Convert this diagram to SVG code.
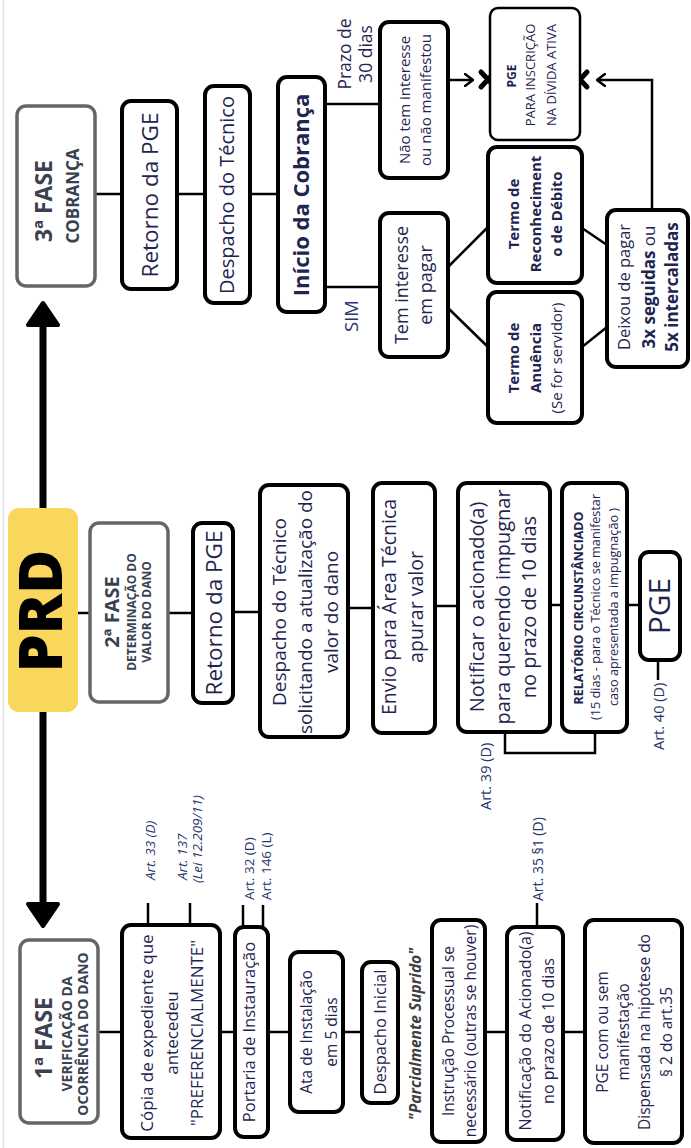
<svg xmlns="http://www.w3.org/2000/svg" width="691" height="1148" viewBox="0 0 691 1148">
<defs>
<style>
.t{font-family:"Open Sans","Liberation Sans",sans-serif;fill:#1f2550;text-anchor:middle}
.s{text-anchor:start}
.b{font-weight:700}
.i{font-style:italic}
.ph{fill:#3a4252;font-weight:700}
.lbl{fill:#28336a}
.box{fill:#fff;stroke:#000;stroke-width:4}
.gbox{fill:#fff;stroke:#666;stroke-width:3.5}
.con{stroke:#000;stroke-width:2.5;fill:none}
.big{stroke:#000;stroke-width:7;fill:none}
.x{stroke:#000;stroke-width:5;stroke-linecap:round;fill:none}
</style>
<marker id="chev" viewBox="0 0 10 14" refX="9" refY="7" markerWidth="10" markerHeight="14" markerUnits="userSpaceOnUse" orient="auto">
<path d="M1,1 L9,7 L1,13" fill="none" stroke="#000" stroke-width="2.5" stroke-linecap="round" stroke-linejoin="round"/>
</marker>
<marker id="head" viewBox="0 0 28 36" refX="3" refY="18" markerWidth="28" markerHeight="36" markerUnits="userSpaceOnUse" orient="auto">
<path d="M3,3 L25,18 L3,33 Z" fill="#000" stroke="#000" stroke-width="4" stroke-linejoin="round"/>
</marker>
</defs>
<rect x="0" y="0" width="691" height="1148" fill="#fff"/>
<line x1="3.5" y1="0" x2="3.5" y2="1148" stroke="#e2e2e2" stroke-width="1.5"/>

<!-- connectors -->
<g id="connectors">
<line class="big" x1="43" y1="510" x2="43" y2="325" marker-end="url(#head)"/>
<line class="big" x1="43" y1="710" x2="43" y2="904" marker-end="url(#head)"/>
<!-- phase 3 -->
<line class="con" x1="95" y1="194" x2="122" y2="194"/>
<line class="con" x1="177" y1="194" x2="205" y2="194"/>
<line class="con" x1="250" y1="194" x2="278" y2="194"/>
<line class="con" x1="325" y1="104" x2="380" y2="104"/>
<line class="con" x1="325" y1="287" x2="380" y2="287"/>
<line class="con" x1="448" y1="80" x2="473" y2="80" marker-end="url(#chev)"/>
<polyline class="con" points="652,210 652,80 597,80" marker-end="url(#chev)"/>
<line class="con" x1="448" y1="267" x2="488" y2="227"/>
<line class="con" x1="448" y1="308" x2="488" y2="347"/>
<line class="con" x1="582" y1="228" x2="607" y2="245"/>
<line class="con" x1="582" y1="347" x2="607" y2="327"/>
<path class="x" d="M481,72 L495,87 M495,72 L481,87"/>
<path class="x" d="M573,72 L587,87 M587,72 L573,87"/>
<!-- phase 2 -->
<line class="con" x1="78" y1="613" x2="90" y2="613"/>
<line class="con" x1="168" y1="613" x2="193" y2="613"/>
<line class="con" x1="233" y1="612" x2="260" y2="612"/>
<line class="con" x1="348" y1="608" x2="373" y2="608"/>
<line class="con" x1="435" y1="606" x2="458" y2="606"/>
<line class="con" x1="550" y1="605" x2="562" y2="605"/>
<line class="con" x1="627" y1="605" x2="640" y2="605"/>
<path class="con" d="M505,732 V753 H595 V732"/>
<line class="con" x1="658" y1="660" x2="658" y2="680"/>
<!-- phase 1 -->
<line class="con" x1="98" y1="1032" x2="122" y2="1032"/>
<line class="con" x1="220" y1="1032" x2="235" y2="1032"/>
<line class="con" x1="268" y1="1032" x2="290" y2="1032"/>
<line class="con" x1="343" y1="1032" x2="362" y2="1032"/>
<line class="con" x1="485" y1="1032" x2="507" y2="1032"/>
<line class="con" x1="563" y1="1032" x2="585" y2="1032"/>
<line class="con" x1="148" y1="903" x2="148" y2="925"/>
<line class="con" x1="190" y1="903" x2="190" y2="925"/>
<line class="con" x1="243" y1="905" x2="243" y2="927"/>
<line class="con" x1="263" y1="905" x2="263" y2="927"/>
<line class="con" x1="537" y1="903" x2="537" y2="927"/>
</g>

<!-- PRD -->
<g id="prd">
<rect x="8" y="508" width="70" height="204" rx="11" fill="#f9d75c"/>
<text class="t b" style="fill:#000;font-weight:800" font-size="60" transform="translate(0,611) rotate(-90)"><tspan x="0" y="62">PRD</tspan></text>
</g>

<!-- Phase 3 -->
<g id="fase3">
<rect class="gbox" x="17" y="106" width="78" height="180" rx="9"/>
<text class="t ph" font-size="23" transform="translate(0,201) rotate(-90)"><tspan x="0" y="52">3ª FASE</tspan></text>
<text class="t ph" font-size="17" transform="translate(0,196) rotate(-90)"><tspan x="0" y="79">COBRANÇA</tspan></text>
</g>
<g id="retorno3">
<rect class="box" x="122" y="101" width="55" height="188" rx="9"/>
<text class="t" font-size="22.5" transform="translate(0,195) rotate(-90)"><tspan x="0" y="158">Retorno da PGE</tspan></text>
</g>
<g id="despacho3">
<rect class="box" x="205" y="86" width="45" height="217" rx="9"/>
<text class="t" font-size="20" transform="translate(0,195) rotate(-90)"><tspan x="0" y="234">Despacho do Técnico</tspan></text>
</g>
<g id="inicio">
<rect class="box" x="278" y="77" width="47" height="235" rx="9"/>
<text class="t b" font-size="22" transform="translate(0,195) rotate(-90)"><tspan x="0" y="309">Início da Cobrança</tspan></text>
</g>
<g id="prazo">
<text class="t" font-size="17.5" transform="translate(0,54) rotate(-90)"><tspan x="0" y="351">Prazo de</tspan><tspan x="0" y="372">30 dias</tspan></text>
</g>
<g id="naotem">
<rect class="box" x="380" y="22" width="68" height="156" rx="9"/>
<text class="t" font-size="15" transform="translate(0,100) rotate(-90)"><tspan x="0" y="410">Não tem interesse</tspan><tspan x="0" y="431">ou não manifestou</tspan></text>
</g>
<g id="pgeativa">
<rect x="490" y="8" width="90" height="132" rx="8" fill="#fff" stroke="#000" stroke-width="2.5"/>
<text class="t b" font-size="12" transform="translate(0,76) rotate(-90)"><tspan x="0" y="516">PGE</tspan></text>
<text class="t" font-size="13" transform="translate(0,75) rotate(-90)"><tspan x="0" y="535">PARA INSCRIÇÃO</tspan><tspan x="0" y="556">NA DÍVIDA ATIVA</tspan></text>
</g>
<g id="sim">
<text class="t lbl" font-size="18.5" transform="translate(0,316) rotate(-90)"><tspan x="0" y="358">SIM</tspan></text>
</g>
<g id="teminteresse">
<rect class="box" x="380" y="213" width="68" height="144" rx="9"/>
<text class="t" font-size="18" transform="translate(0,285) rotate(-90)"><tspan x="0" y="408">Tem interesse</tspan><tspan x="0" y="432">em pagar</tspan></text>
</g>
<g id="termoreconh">
<rect class="box" x="488" y="147" width="94" height="136" rx="9"/>
<text class="t b" font-size="15" transform="translate(0,214) rotate(-90)"><tspan x="0" y="519">Termo de</tspan><tspan x="0" y="541">Reconheciment</tspan><tspan x="0" y="562">o de  Débito</tspan></text>
</g>
<g id="termoanuencia">
<rect class="box" x="488" y="292" width="94" height="131" rx="9"/>
<text class="t" font-size="15" transform="translate(0,358) rotate(-90)"><tspan x="0" y="519" font-weight="700">Termo de</tspan><tspan x="0" y="541" font-weight="700">Anuência</tspan><tspan x="0" y="562">(Se for servidor)</tspan></text>
</g>
<g id="deixou">
<rect class="box" x="607" y="210" width="81" height="157" rx="9"/>
<text class="t" font-size="16.5" transform="translate(0,287) rotate(-90)"><tspan x="0" y="630">Deixou de pagar</tspan><tspan x="0" y="655" font-size="17"><tspan font-weight="700">3x seguidas</tspan> ou</tspan><tspan x="0" y="678" font-size="17" font-weight="700">5x intercaladas</tspan></text>
</g>

<!-- Phase 2 -->
<g id="fase2">
<rect class="gbox" x="90" y="523" width="78" height="179" rx="9"/>
<text class="t ph" font-size="20" transform="translate(0,612) rotate(-90)"><tspan x="0" y="119">2ª FASE</tspan></text>
<text class="t ph" font-size="12" transform="translate(0,612) rotate(-90)"><tspan x="0" y="136">DETERMINAÇÃO DO</tspan><tspan x="0" y="151">VALOR DO DANO</tspan></text>
</g>
<g id="retorno2">
<rect class="box" x="193" y="523" width="40" height="180" rx="9"/>
<text class="t" font-size="22.5" transform="translate(0,613) rotate(-90)"><tspan x="0" y="222">Retorno da PGE</tspan></text>
</g>
<g id="despacho2">
<rect class="box" x="260" y="485" width="88" height="252" rx="9"/>
<text class="t" font-size="19" transform="translate(0,612) rotate(-90)"><tspan x="0" y="286">Despacho do Técnico</tspan><tspan x="0" y="312">solicitando a atualização do</tspan><tspan x="0" y="338">valor do dano</tspan></text>
</g>
<g id="envio">
<rect class="box" x="373" y="483" width="62" height="250" rx="9"/>
<text class="t" font-size="19.5" transform="translate(0,607) rotate(-90)"><tspan x="0" y="396">Envio para Área Técnica</tspan><tspan x="0" y="423">apurar valor</tspan></text>
</g>
<g id="notificar">
<rect class="box" x="458" y="483" width="92" height="249" rx="9"/>
<text class="t" font-size="20" transform="translate(0,607) rotate(-90)"><tspan x="0" y="484">Notificar o acionado(a)</tspan><tspan x="0" y="510">para querendo impugnar</tspan><tspan x="0" y="536">no prazo de 10 dias</tspan></text>
</g>
<g id="relatorio">
<rect class="box" x="562" y="483" width="65" height="249" rx="9"/>
<text class="t b" font-size="12.4" transform="translate(0,608) rotate(-90)"><tspan x="0" y="583">RELATÓRIO CIRCUNSTÂNCIADO</tspan></text>
<text class="t" font-size="12.7" transform="translate(0,607) rotate(-90)"><tspan x="0" y="600">(15 dias - para o Técnico se manifestar</tspan><tspan x="0" y="618">caso apresentada a impugnação )</tspan></text>
</g>
<g id="pge2">
<rect class="box" x="640" y="552" width="40" height="108" rx="9"/>
<text class="t" font-size="30" transform="translate(0,606) rotate(-90)"><tspan x="0" y="670">PGE</tspan></text>
</g>
<g id="art39">
<text class="t s lbl" font-size="14.5" transform="translate(0,810) rotate(-90)"><tspan x="0" y="491">Art. 39 (D)</tspan></text>
</g>
<g id="art40">
<text class="t s lbl" font-size="14.5" transform="translate(0,750) rotate(-90)"><tspan x="0" y="664">Art. 40 (D)</tspan></text>
</g>

<!-- Phase 1 -->
<g id="fase1">
<rect class="gbox" x="20" y="940" width="78" height="183" rx="9"/>
<text class="t ph" font-size="23" transform="translate(0,1038) rotate(-90)"><tspan x="0" y="52">1ª FASE</tspan></text>
<text class="t ph" font-size="14" transform="translate(0,1034) rotate(-90)"><tspan x="0" y="72">VERIFICAÇÃO DA</tspan><tspan x="0" y="88">OCORRÊNCIA DO DANO</tspan></text>
</g>
<g id="copia">
<rect class="box" x="122" y="925" width="98" height="213" rx="9"/>
<text class="t" font-size="17" transform="translate(0,1033) rotate(-90)"><tspan x="0" y="153">Cópia de expediente que</tspan><tspan x="0" y="178">antecedeu</tspan><tspan x="0" y="203">"PREFERENCIALMENTE"</tspan></text>
</g>
<g id="arts1">
<text class="t s lbl i" font-size="13.5" transform="translate(0,880) rotate(-90)"><tspan x="0" y="155">Art. 33 (D)</tspan></text>
<text class="t s lbl i" font-size="13.5" transform="translate(0,880) rotate(-90)"><tspan x="0" y="187">Art. 137</tspan></text>
<text class="t s lbl i" font-size="13.5" transform="translate(0,883) rotate(-90)"><tspan x="0" y="202">(Lei 12.209/11)</tspan></text>
<text class="t s lbl" font-size="13.5" transform="translate(0,900) rotate(-90)"><tspan x="0" y="254">Art. 32 (D)</tspan></text>
<text class="t s lbl" font-size="13.5" transform="translate(0,900) rotate(-90)"><tspan x="0" y="271">Art. 146 (L)</tspan></text>
<text class="t s lbl" font-size="14" transform="translate(0,901) rotate(-90)"><tspan x="0" y="543">Art. 35 §1 (D)</tspan></text>
</g>
<g id="portaria">
<rect class="box" x="235" y="927" width="33" height="210" rx="9"/>
<text class="t" font-size="16.5" transform="translate(0,1032) rotate(-90)"><tspan x="0" y="255">Portaria de Instauração</tspan></text>
</g>
<g id="ata">
<rect class="box" x="290" y="952" width="53" height="160" rx="9"/>
<text class="t" font-size="15.5" transform="translate(0,1032) rotate(-90)"><tspan x="0" y="312">Ata de Instalação</tspan><tspan x="0" y="337">em 5 dias</tspan></text>
</g>
<g id="despachoinicial">
<rect class="box" x="362" y="962" width="36" height="141" rx="9"/>
<text class="t" font-size="16.5" transform="translate(0,1032) rotate(-90)"><tspan x="0" y="386">Despacho Inicial</tspan></text>
</g>
<g id="parcialmente">
<text class="t b i" style="fill:#404040" font-size="15.5" transform="translate(0,1034) rotate(-90)"><tspan x="0" y="421">"Parcialmente Suprido"</tspan></text>
</g>
<g id="instrucao">
<rect class="box" x="432" y="920" width="53" height="222" rx="9"/>
<text class="t" font-size="15.5" transform="translate(0,1031) rotate(-90)"><tspan x="0" y="454">Instrução Processual se</tspan><tspan x="0" y="476">necessário (outras se houver)</tspan></text>
</g>
<g id="notificacao">
<rect class="box" x="507" y="927" width="56" height="213" rx="9"/>
<text class="t" font-size="16" transform="translate(0,1031) rotate(-90)"><tspan x="0" y="531">Notificação do Acionado(a)</tspan><tspan x="0" y="554">no prazo de 10 dias</tspan></text>
</g>
<g id="pge1">
<rect class="box" x="585" y="920" width="97" height="223" rx="9"/>
<text class="t" font-size="15.5" transform="translate(0,1032) rotate(-90)"><tspan x="0" y="608">PGE com ou sem</tspan><tspan x="0" y="629">manifestação</tspan><tspan x="0" y="650">Dispensada na hipótese do</tspan><tspan x="0" y="672">§ 2 do art.35</tspan></text>
</g>
</svg>
